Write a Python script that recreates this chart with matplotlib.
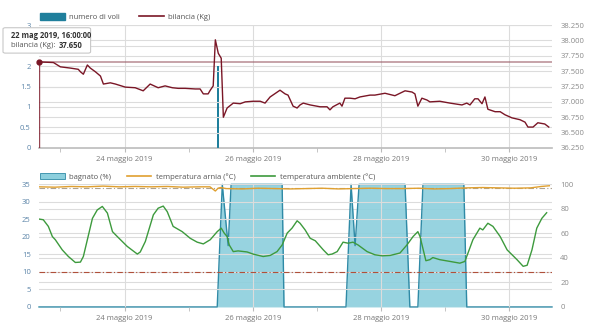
import numpy as np
import pandas as pd
import matplotlib
matplotlib.use("Agg")
import matplotlib.pyplot as plt
import matplotlib.dates as mdates
from matplotlib.patches import Patch, FancyBboxPatch
from matplotlib.lines import Line2D

plt.rcParams['font.family'] = ['Open Sans', 'DejaVu Sans']

START = pd.Timestamp("2019-05-22 16:00")
END = pd.Timestamp("2019-05-30 16:00")

# ---- data (hours from 22 May 16:00) ----
voli_h = [67.0]
voli = [2]

bil_h = [0, 5.4, 8.0, 11.7, 14.7, 15.5, 16.6, 18.1, 19.2, 21.1, 23.0, 24.1, 26.7, 28.6,
         32.3, 36.0, 39.0, 41.6, 44.6, 47.2, 49.9, 52.1, 54.7, 58.5, 60.3, 61.5, 63.3,
         64.1, 65.2, 66.0, 67.1, 68.2, 69.0, 70.4, 72.7, 75.3, 77.2, 80.1, 82.8, 84.6,
         86.5, 90.2, 92.1, 93.2, 95.1, 96.6, 97.7, 98.9, 101.5, 105.2, 107.8, 108.9,
         110.0, 112.6, 113.4, 114.5, 116.4, 118.3, 120.1, 123.9, 125.7, 129.5, 133.2,
         135.1, 137.0, 139.6, 140.7, 141.8, 143.3, 145.2, 146.3, 150.0, 153.8, 158.3,
         160.1, 161.3, 163.1, 164.3, 165.8, 166.9, 168.0, 170.7, 172.6, 174.4, 177.0,
         180.0, 181.9, 183.0, 184.9, 186.7, 189.3, 190.8]
bil = [37.65, 37.64, 37.57, 37.55, 37.53, 37.49, 37.45, 37.60, 37.55, 37.49, 37.42, 37.29,
       37.31, 37.29, 37.24, 37.23, 37.18, 37.29, 37.23, 37.26, 37.23, 37.22, 37.22, 37.21,
       37.21, 37.13, 37.13, 37.19, 37.26, 38.01, 37.79, 37.71, 36.75, 36.90, 36.98, 36.97,
       37.00, 37.01, 37.01, 36.98, 37.08, 37.19, 37.13, 37.11, 36.93, 36.90, 36.95, 36.98,
       36.95, 36.92, 36.92, 36.87, 36.92, 36.98, 36.93, 37.06, 37.06, 37.05, 37.08, 37.11,
       37.11, 37.14, 37.10, 37.14, 37.18, 37.16, 37.13, 36.93, 37.06, 37.03, 37.00, 37.01,
       36.98, 36.95, 36.98, 36.95, 37.05, 37.05, 36.97, 37.08, 36.88, 36.84, 36.84, 36.79,
       36.74, 36.71, 36.67, 36.59, 36.59, 36.66, 36.64, 36.59]

bagn_h = [0, 66.7, 68.6, 70.8, 71.9, 91.0, 91.7, 114.9, 116.8, 118.3, 119.8, 137.0, 138.8,
          141.8, 143.7, 159.0, 160.1, 192]
bagn = [0, 0, 100, 50, 100, 100, 0, 0, 100, 50, 100, 100, 0, 0, 100, 100, 0, 0]

arnia_h = [0, 6, 12, 18, 24, 30, 36, 42, 48, 54, 60, 64, 66, 67, 68, 70, 76, 82, 88, 94,
           100, 106, 112, 118, 124, 130, 136, 142, 148, 154, 160, 166, 172, 178, 184, 188, 191]
arnia = [34.3, 34.2, 34.4, 34.3, 34.5, 34.3, 34.4, 34.3, 34.4, 34.2, 34.3, 34.3, 33.1, 33.9,
         34.1, 33.8, 33.7, 33.9, 33.8, 33.7, 33.8, 33.9, 33.7, 33.8, 33.9, 33.8, 33.8, 33.9,
         33.7, 33.8, 34.0, 34.1, 34.0, 33.9, 34.0, 34.4, 34.6]

amb_h = [0, 1.6, 3.5, 5.0, 6.1, 8.7, 11.0, 13.6, 15.5, 16.6, 18.1, 20.0, 21.8, 23.7, 25.6,
         27.5, 29.3, 33.0, 36.8, 37.9, 39.8, 42.8, 44.6, 46.5, 48.0, 50.2, 53.6, 56.6, 59.2,
         61.5, 64.1, 66.7, 68.2, 69.3, 70.4, 71.2, 72.7, 74.5, 77.9, 80.1, 83.9, 86.5, 89.1,
         91.0, 92.9, 94.7, 96.6, 97.7, 99.6, 101.5, 103.4, 106.4, 108.2, 109.7, 111.6, 113.8,
         115.7, 117.5, 119.4, 122.8, 125.7, 128.4, 131.4, 135.1, 137.7, 140.0, 141.8, 142.6,
         144.8, 146.3, 147.4, 150.0, 153.8, 157.5, 159.4, 162.4, 165.0, 166.1, 168.0, 169.9,
         172.6, 175.2, 178.9, 181.2, 182.7, 184.5, 186.3, 188.2, 190.0]
amb = [25.1, 24.9, 23.0, 20.1, 19.2, 16.3, 14.4, 12.7, 12.8, 14.4, 19.2, 25.3, 27.7, 28.7,
       26.8, 21.5, 20.1, 17.3, 15.1, 15.7, 18.7, 26.3, 28.2, 28.8, 27.2, 23.0, 21.5, 19.6,
       18.5, 18.0, 19.2, 21.5, 22.5, 21.1, 20.1, 17.7, 15.8, 16.0, 15.7, 15.1, 14.4, 14.7,
       15.8, 17.7, 21.1, 22.5, 24.6, 23.9, 22.0, 19.6, 18.9, 16.3, 14.9, 15.1, 15.8, 18.5,
       18.2, 18.5, 17.7, 15.8, 14.9, 14.6, 14.7, 15.4, 17.7, 20.1, 21.5, 20.1, 13.2, 13.5,
       14.1, 13.5, 13.0, 12.5, 13.0, 19.2, 22.5, 22.0, 23.9, 23.0, 20.1, 16.3, 13.5, 11.6,
       11.9, 16.3, 22.5, 25.3, 26.9]


def t(hours):
    return START + pd.to_timedelta(np.array(hours, dtype=float), unit="h")


GRID = "#dcdcdc"
LBL = "#5b84a8"
RLBL = "#8a8a8a"
TEAL = "#1f7f9c"
WINE = "#7a1626"

fig = plt.figure(figsize=(6, 3.34), dpi=100, facecolor="white")
ax1 = fig.add_axes([0.065, 0.557, 0.855, 0.368])
ax1r = ax1.twinx()
ax2 = fig.add_axes([0.065, 0.081, 0.855, 0.367])
ax2r = ax2.twinx()


def style_x(ax):
    ax.set_xlim(START, END)
    ax.xaxis.set_major_locator(mdates.DayLocator(bymonthday=[24, 26, 28, 30]))
    ax.xaxis.set_minor_locator(mdates.DayLocator(bymonthday=[23, 25, 27, 29]))
    ax.xaxis.set_major_formatter(plt.FuncFormatter(
        lambda v, p: f"{mdates.num2date(v).day} maggio 2019"))
    ax.tick_params(axis="x", which="both", length=3, color="#bbbbbb",
                   labelsize=5.5, labelcolor="#777777", pad=3)
    ax.grid(axis="x", which="major", color=GRID, lw=0.8)


for ax in (ax1, ax1r, ax2, ax2r):
    for s in ax.spines.values():
        s.set_visible(False)
    ax.tick_params(axis="y", length=0, labelsize=5.5)

# ---- top panel ----
style_x(ax1)
ax1.set_ylim(0, 3)
ax1.set_yticks(np.arange(0, 3.01, 0.5))
# "2.5" sits under the tooltip in the original, so it is left blank
ax1.set_yticklabels(["0", "0.5", "1", "1.5", "2", "", "3"])
ax1.tick_params(axis="y", labelcolor=LBL, pad=6)
ax1.grid(axis="y", color=GRID, lw=0.8)
ax1.spines["bottom"].set_visible(True)
ax1.spines["bottom"].set_color("#bbbbbb")
ax1.spines["bottom"].set_linewidth(1.2)
ax1.bar(t(voli_h), voli, width=0.035, color=TEAL, zorder=3)

ax1r.set_ylim(36.25, 38.25)
ax1r.set_yticks(np.arange(36.25, 38.26, 0.25))
ax1r.yaxis.set_major_formatter(plt.FuncFormatter(lambda v, p: f"{v:.3f}"))
ax1r.tick_params(axis="y", labelcolor=RLBL, pad=6)
ax1r.grid(axis="y", color=GRID, lw=0.8)
ax1r.plot(t(bil_h), bil, color=WINE, lw=1.0, zorder=4)
ax1r.axhline(bil[0], color="#9a5a66", lw=1.3, alpha=0.6)
ax1r.plot([t([0])[0]] * 2, [36.25, bil[0]], color=WINE, lw=1.0, alpha=0.8)
ax1r.plot(t([0]), [bil[0]], "o", color=WINE, ms=3.5, clip_on=False, zorder=5)

ax1.legend(handles=[Patch(color=TEAL, label="numero di voli"),
                    Line2D([], [], color=WINE, lw=1.2, label="bilancia (Kg)")],
           loc="lower left", bbox_to_anchor=(-0.005, 1.0), ncol=2, frameon=False,
           fontsize=5.5, handlelength=3.2, handleheight=0.9, columnspacing=2.5,
           handletextpad=0.6, borderaxespad=0.1, labelcolor="#555555")

# tooltip
tip = FancyBboxPatch((0.007, 0.843), 0.142, 0.072, transform=fig.transFigure,
                     boxstyle="round,pad=0.002,rounding_size=0.004",
                     fc="white", ec="#c8c8c8", lw=0.8, zorder=10)
fig.patches.append(tip)
fig.text(0.018, 0.895, "22 mag 2019, 16:00:00", fontsize=5.5, fontweight="bold",
         color="#333333", va="center", zorder=11)
fig.text(0.018, 0.864, "bilancia (Kg):", fontsize=5.5, color="#555555", va="center", zorder=11)
fig.text(0.098, 0.864, "37.650", fontsize=5.5, fontweight="bold", color="#333333",
         va="center", zorder=11)

# ---- bottom panel ----
style_x(ax2)
ax2r.set_zorder(ax2.zorder - 1)
ax2.patch.set_visible(False)
ax2r.patch.set_facecolor("white")

ax2.set_ylim(0, 35)
ax2.set_yticks(range(0, 36, 5))
ax2.tick_params(axis="y", labelcolor=LBL, pad=6)
ax2.grid(axis="y", color=GRID, lw=0.8)
ax2.plot(t(arnia_h), arnia, color="#e0a030", lw=1.0, zorder=4)
ax2.plot(t(amb_h), amb, color="#3d9a3d", lw=1.0, zorder=4)
ax2.axhline(10, color="#b0503a", lw=0.8, ls=(0, (5, 2, 1, 2)), zorder=3)
ax2.axhline(34, color="#8a7a60", lw=0.8, ls=(0, (5, 2, 1, 2)), alpha=0.7, zorder=3)

ax2r.set_ylim(0, 100)
ax2r.set_yticks(range(0, 101, 20))
ax2r.tick_params(axis="y", labelcolor=RLBL, pad=6)
ax2r.grid(axis="y", color=GRID, lw=0.8)
ax2r.xaxis.grid(True, which="major", color=GRID, lw=0.8)
ax2r.fill_between(t(bagn_h), bagn, 0, color="#8ccfdd", alpha=0.9, lw=0, zorder=2)
ax2r.plot(t(bagn_h), bagn, color="#2f8aa6", lw=1.0, zorder=3, clip_on=False)

ax2.legend(handles=[Patch(fc="#8ccfdd", ec="#2f8aa6", lw=0.6, label="bagnato (%)"),
                    Line2D([], [], color="#e0a030", lw=1.2, label="temperatura arnia (°C)"),
                    Line2D([], [], color="#3d9a3d", lw=1.2, label="temperatura ambiente (°C)")],
           loc="lower left", bbox_to_anchor=(-0.005, 1.0), ncol=3, frameon=False,
           fontsize=5.5, handlelength=3.2, handleheight=0.9, columnspacing=2.0,
           handletextpad=0.6, borderaxespad=0.1, labelcolor="#555555")

fig.savefig("out.png", dpi=100)
